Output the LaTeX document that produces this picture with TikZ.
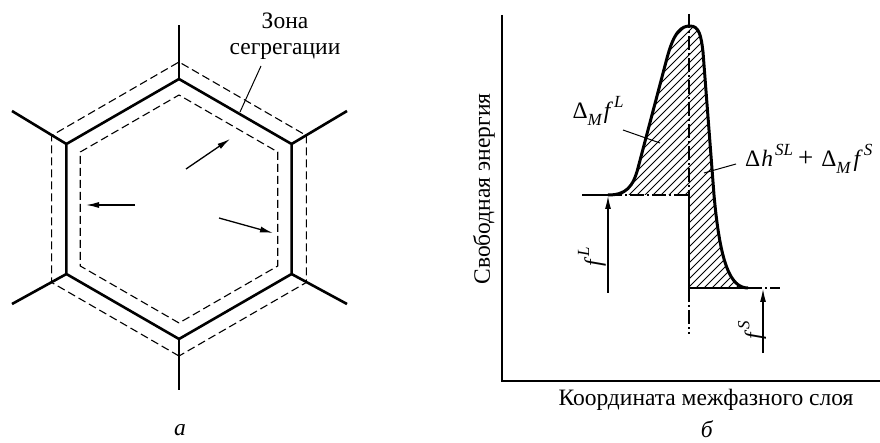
\documentclass[tikz,border=0pt]{standalone}
\usepackage{fontspec}
\setmainfont{Liberation Serif}
\usetikzlibrary{arrows.meta,calc}
\newcommand{\supit}[1]{\raisebox{0.5em}{\fontsize{17}{17}\selectfont\itshape #1}}
\newcommand{\subit}[1]{\raisebox{-0.28em}{\fontsize{17}{17}\selectfont\itshape #1}}
\begin{document}
\begin{tikzpicture}[x=1pt,y=-1pt,
  font=\fontsize{23.5}{26}\selectfont,
  grain/.style={line width=2.6pt},
  zone/.style={line width=1.1pt, dash pattern=on 8pt off 4pt},
  flux/.style={line width=1.3pt,-{Latex[length=13pt,width=6pt]}},
  axis/.style={line width=1.5pt},
  curvestyle/.style={line width=3pt, line join=round},
  thinline/.style={line width=1.1pt},
  dashdot/.style={line width=1.1pt, dash pattern=on 14pt off 3pt on 2pt off 3pt},
  hatch/.style={line width=0.8pt},
  leader/.style={line width=1pt},
  lbl/.style={inner sep=0pt}
]
\useasboundingbox (0,0) rectangle (880,443);

% ---------- panel a ----------
\coordinate (C) at (179,209);
\foreach \a [count=\i] in {90,150,210,270,330,30} {
  \coordinate (v\i) at ($(C)+(\a:130)$);
  \coordinate (o\i) at ($(C)+(\a:147)$);
  \coordinate (n\i) at ($(C)+(\a:114)$);
}
\draw[zone] (o1)--(o2)--(o3)--(o4)--(o5)--(o6)--cycle;
\draw[zone] (n1)--(n2)--(n3)--(n4)--(n5)--(n6)--cycle;
\draw[grain,line join=miter] (v1)--(v2)--(v3)--(v4)--(v5)--(v6)--cycle;

\coordinate (s1) at (179,390);
\coordinate (s2) at (12,304);
\coordinate (s3) at (12,111);
\coordinate (s4) at (179,25);
\coordinate (s5) at (347,111);
\coordinate (s6) at (347,304);
\foreach \i in {1,...,6} \draw[grain] (v\i) -- (s\i);

\coordinate (a1s) at (186,169); \coordinate (a1e) at (230,139);
\coordinate (a2s) at (135,205); \coordinate (a2e) at (86,205);
\coordinate (a3s) at (219,218); \coordinate (a3e) at (273,233);
\draw[flux] (a1s) -- (a1e);
\draw[flux] (a2s) -- (a2e);
\draw[flux] (a3s) -- (a3e);

\node[lbl,align=center] (zone) at (285,36) {Зона\\сегрегации};
\coordinate (zl1) at (261,66);
\coordinate (zl2) at (240,112);
\draw[leader] (zl1) -- (zl2);

\node[lbl] (sa) at (180,430) {\textit{а}};

% ---------- panel b ----------
\coordinate (ytop) at (502,15);
\coordinate (orig) at (502,381);
\coordinate (xend) at (880,381);
\draw[axis] (ytop) -- (orig) -- (xend);

\node[lbl,rotate=90] (ylab) at (484,189) {Свободная энергия};
\node[lbl] (xlab) at (706,400) {Координата межфазного слоя};
\node[lbl] (sb) at (707,429) {\textit{б}};

\def\fecurve{(608,195) .. controls (626,195) and (633,187) .. (638,168)
  -- (667,58)
  .. controls (674,32) and (681,26) .. (690,26)
  .. controls (699,26) and (701,35) .. (703,52)
  -- (714,195)
  .. controls (720,262) and (730,288) .. (748,288)}

\begin{scope}
\clip \fecurve -- (689,288) -- (689,195) -- cycle;
\foreach \c in {560,568,...,1100} \draw[hatch] (\c-300,300) -- (\c,0);
\end{scope}

\draw[thinline] (582,195) -- (608,195);
\draw[dashdot] (608,195) -- (689,195);
\draw[thinline] (689,195) -- (689,288) -- (748,288);
\draw[dashdot] (748,288) -- (780,288);
\draw[dashdot] (689,14) -- (689,195);
\draw[dashdot] (689,288) -- (689,334);

\draw[curvestyle] \fecurve;

\coordinate (fla) at (608,293); \coordinate (flb) at (608,196);
\coordinate (fsa) at (763,353); \coordinate (fsb) at (763,289);
\draw[flux,line width=1.1pt] (fla) -- (flb);
\draw[flux,line width=1.1pt] (fsa) -- (fsb);

\node[lbl,anchor=base] (dmfl) at (598,119) {Δ\subit{M}\kern2pt\textit{f}\kern1pt\supit{L}};
\node[lbl,anchor=base west] (dhsl) at (745,167) {Δ\kern1pt\textit{h}\kern2pt\supit{SL}\kern5pt{\fontsize{27}{27}\selectfont+}\kern8ptΔ\subit{M}\kern3pt\textit{f}\kern1pt\supit{S}};
\node[lbl,rotate=90] (fl) at (592,257) {\textit{f}\kern1pt\supit{L}};
\node[lbl,rotate=90] (fs) at (752,330) {\textit{f}\kern1pt\supit{S}};

\coordinate (l1a) at (623,130); \coordinate (l1b) at (660,143);
\coordinate (l2a) at (704,173); \coordinate (l2b) at (736,164);
\draw[leader] (l1a) -- (l1b);
\draw[leader] (l2a) -- (l2b);
\end{tikzpicture}
\end{document}
